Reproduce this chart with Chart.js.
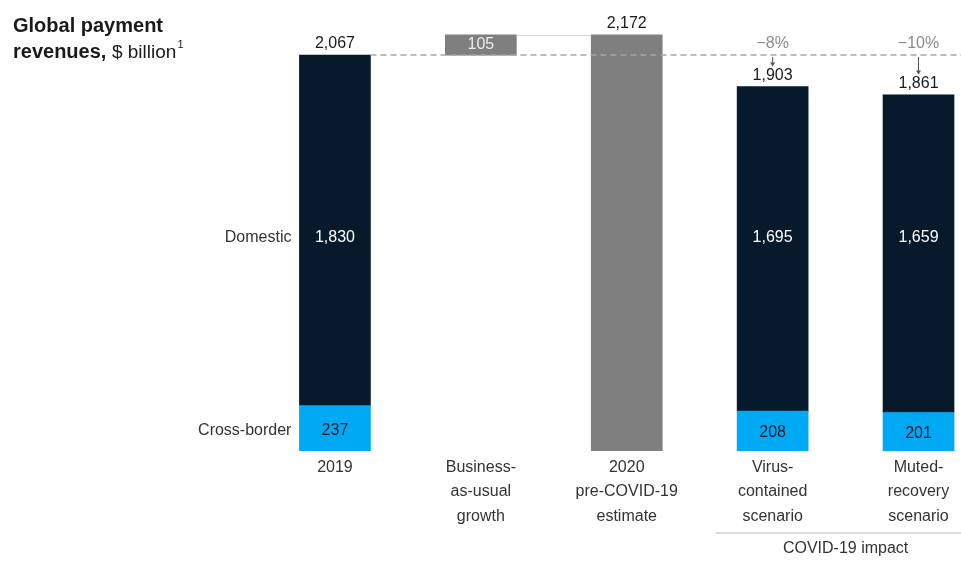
<!DOCTYPE html>
<html>
<head>
<meta charset="utf-8">
<script src="https://cdn.jsdelivr.net/npm/chart.js@4"></script>
<style>
  html, body { margin: 0; padding: 0; background: #fff; }
  #wrap { width: 961px; height: 562px; }
</style>
</head>
<body>
<div id="wrap"><canvas id="revenue-chart" width="961" height="562"></canvas></div>
<script>
const categories = [
    ['2019'],
    ['Business-', 'as-usual', 'growth'],
    ['2020', 'pre-COVID-19', 'estimate'],
    ['Virus-', 'contained', 'scenario'],
    ['Muted-', 'recovery', 'scenario']
];
const crossBorder = [237, null, null, 208, 201];
const domestic = [1830, null, null, 1695, 1659];
const estimate = [null, [2067, 2172], [0, 2172], null, null];
const totals = [2067, null, 2172, 1903, 1861];
const changeLabels = [null, null, null, '\u22128%', '\u221210%'];

const FONT = "'Liberation Sans', Arial, sans-serif";
const NAVY = '#061a2b';
const CYAN = '#00a9f4';
const GREY = '#7f7f7f';

function points(arr) {
    return arr.map((v, i) => ({ x: i, y: v })).filter(p => p.y !== null);
}
const fmt = v => v.toLocaleString('en-US');

const annotations = {
    id: 'annotations',
    afterDatasetsDraw(chart) {
        const ctx = chart.ctx;
        const x = chart.scales.x;
        const y = chart.scales.y;
        const half = 35.5;
        ctx.save();

        // title
        ctx.fillStyle = '#1a1a1a';
        ctx.textAlign = 'left';
        ctx.textBaseline = 'alphabetic';
        ctx.font = 'bold 20px ' + FONT;
        ctx.fillText('Global payment', 13, 32);
        ctx.fillText('revenues,', 13, 58);
        let tx = 13 + ctx.measureText('revenues, ').width;
        ctx.font = '19px ' + FONT;
        ctx.fillText('$ billion', tx, 58);
        tx += ctx.measureText('$ billion').width + 1;
        ctx.font = '11px ' + FONT;
        ctx.fillText('1', tx, 48);

        // dashed reference at the 2019 level
        const baseY = y.getPixelForValue(totals[0]);
        ctx.strokeStyle = '#a6a6a6';
        ctx.lineWidth = 1.5;
        ctx.setLineDash([6, 4]);
        ctx.beginPath();
        ctx.moveTo(x.getPixelForValue(0) + half, baseY);
        ctx.lineTo(chart.width, baseY);
        ctx.stroke();
        ctx.setLineDash([]);

        // connector from growth bar to 2020 bar
        const topY = y.getPixelForValue(estimate[1][1]);
        ctx.strokeStyle = '#d0d0d0';
        ctx.lineWidth = 1;
        ctx.beginPath();
        ctx.moveTo(x.getPixelForValue(1) + half, topY + 0.5);
        ctx.lineTo(x.getPixelForValue(2) - half, topY + 0.5);
        ctx.stroke();

        ctx.textAlign = 'center';
        ctx.textBaseline = 'middle';
        ctx.font = '16px ' + FONT;

        // totals above bars
        totals.forEach((t, i) => {
            if (t === null) return;
            ctx.fillStyle = '#1a1a1a';
            ctx.fillText(fmt(t), x.getPixelForValue(i), y.getPixelForValue(t) - 11);
        });

        // growth value inside the floating bar
        const g = estimate[1];
        ctx.fillStyle = '#ececec';
        ctx.fillText(fmt(g[1] - g[0]), x.getPixelForValue(1), y.getPixelForValue((g[0] + g[1]) / 2));

        // segment labels
        const rowY = y.getPixelForValue(1112);
        domestic.forEach((v, i) => {
            if (v === null) return;
            ctx.fillStyle = '#ffffff';
            ctx.fillText(fmt(v), x.getPixelForValue(i), rowY);
        });
        crossBorder.forEach((v, i) => {
            if (v === null) return;
            ctx.fillStyle = '#0b1d2d';
            ctx.fillText(fmt(v), x.getPixelForValue(i), y.getPixelForValue(v / 2) + 2);
        });

        // row names left of the first bar
        ctx.textAlign = 'right';
        ctx.fillStyle = '#333';
        const labelX = x.getPixelForValue(0) - half - 8;
        ctx.fillText('Domestic', labelX, rowY);
        ctx.fillText('Cross-border', labelX, y.getPixelForValue(crossBorder[0] / 2) + 2);

        // change vs estimate, with arrows down to the totals
        ctx.textAlign = 'center';
        changeLabels.forEach((lbl, i) => {
            if (!lbl) return;
            const cx = x.getPixelForValue(i);
            ctx.fillStyle = '#8c8c8c';
            ctx.fillText(lbl, cx, baseY - 11);
            const end = y.getPixelForValue(totals[i]) - 21;
            ctx.strokeStyle = '#555';
            ctx.lineWidth = 1;
            ctx.beginPath();
            ctx.moveTo(cx, baseY + 2);
            ctx.lineTo(cx, end - 2);
            ctx.stroke();
            ctx.fillStyle = '#555';
            ctx.beginPath();
            ctx.moveTo(cx - 2.5, end - 3);
            ctx.lineTo(cx + 2.5, end - 3);
            ctx.lineTo(cx, end + 1);
            ctx.closePath();
            ctx.fill();
        });

        // bracket for the scenario columns
        const bx = x.getPixelForValue(3) - 57;
        ctx.strokeStyle = '#cfcfcf';
        ctx.lineWidth = 1.5;
        ctx.beginPath();
        ctx.moveTo(bx, 533);
        ctx.lineTo(chart.width, 533);
        ctx.stroke();
        ctx.fillStyle = '#333';
        ctx.fillText('COVID-19 impact', (x.getPixelForValue(3) + x.getPixelForValue(4)) / 2, 549);

        ctx.restore();
    }
};

const ctx = document.getElementById('revenue-chart').getContext('2d');
const chart = new Chart(ctx, {
    type: 'bar',
    data: {
        datasets: [
            { label: 'Cross-border', data: points(crossBorder), backgroundColor: CYAN },
            { label: 'Domestic', data: points(domestic), backgroundColor: NAVY },
            { label: 'Estimate', data: points(estimate), backgroundColor: GREY }
        ]
    },
    options: {
        responsive: false,
        animation: false,
        barThickness: 71,
        layout: { padding: { left: 262, right: 6, top: 20, bottom: 31 } },
        plugins: {
            legend: { display: false },
            tooltip: { enabled: false }
        },
        scales: {
            x: {
                type: 'linear',
                offset: false,
                stacked: true,
                min: -0.5,
                max: 4.25,
                grid: { display: false, drawTicks: false },
                border: { display: false },
                afterBuildTicks: s => { s.ticks = categories.map((c, i) => ({ value: i })); },
                afterFit: s => {
                    s.height = 80;
                    s.paddingLeft = 0;
                    s.paddingRight = 0;
                },
                ticks: {
                    autoSkip: false,
                    maxRotation: 0,
                    padding: 4,
                    color: '#333',
                    font: { family: FONT, size: 16, lineHeight: 1.53 },
                    callback: v => categories[v]
                }
            },
            y: {
                stacked: true,
                display: false,
                min: 0,
                max: 2250
            }
        }
    },
    plugins: [annotations]
});
</script>
</body>
</html>
